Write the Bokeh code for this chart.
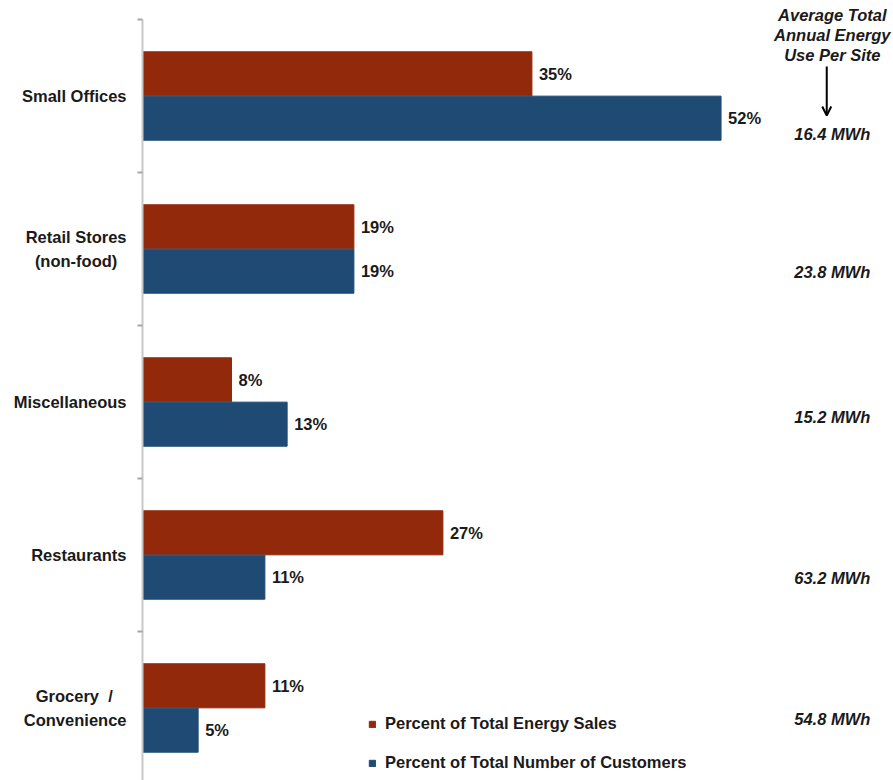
from bokeh.plotting import figure
from bokeh.models import (ColumnDataSource, Range1d, FixedTicker, Label, Arrow,
                          OpenHead, Legend, LegendItem)
from bokeh.core.properties import value
from bokeh.embed import file_html
from bokeh.resources import INLINE

NB = "\u00a0"
categories = ["Small Offices", "Retail Stores\n(non-food)" + NB * 2, "Miscellaneous",
              "Restaurants", "Grocery" + NB + " /" + NB * 3 + "\nConvenience"]
energy_sales = [35, 19, 8, 27, 11]
customers = [52, 19, 13, 11, 5]
mwh = ["16.4 MWh", "23.8 MWh", "15.2 MWh", "63.2 MWh", "54.8 MWh"]
header_lines = ["Average Total", "Annual Energy", "Use Per Site"]
series_names = ["Percent of Total Energy Sales", "Percent of Total Number of Customers"]

RED = "#92290B"
BLUE = "#1F4A73"
FONT = "Liberation Sans"
FS = "16.5px"

n = len(categories)
ypos = [n - 1 - i for i in range(n)]  # top to bottom
off = 0.145
bar_h = 0.288
band_px = 153.0
y_lo = -0.474
y_hi = (n - 0.5) + 19 / band_px

src_r = ColumnDataSource(dict(y=[v + off for v in ypos], x=energy_sales,
                              lab=[f"{v}%" for v in energy_sales]))
src_b = ColumnDataSource(dict(y=[v - off for v in ypos], x=customers,
                              lab=[f"{v}%" for v in customers]))

p = figure(width=893, height=780, output_backend="svg", toolbar_location=None,
           x_range=Range1d(0, 67.5), y_range=Range1d(y_lo, y_hi),
           min_border_left=142, min_border_right=0, min_border_top=0,
           min_border_bottom=0, outline_line_color=None)
p.xaxis.visible = False
p.xgrid.visible = False
p.ygrid.visible = False

r1 = p.hbar(y="y", right="x", left=0, height=bar_h, source=src_r,
            fill_color=RED, line_color=RED)
r2 = p.hbar(y="y", right="x", left=0, height=bar_h, source=src_b,
            fill_color=BLUE, line_color=BLUE)

for s in (src_r, src_b):
    p.text(x="x", y="y", text="lab", source=s, x_offset=7,
           text_align="left", text_baseline="middle",
           text_font=value(FONT), text_font_style="bold",
           text_font_size=FS, text_color="#1a1a1a")

# MWh column
mwh_x = 62.0
mwh_dy = [-0.25, -0.15, -0.10, -0.15, -0.07]
src_m = ColumnDataSource(dict(x=[mwh_x] * n, y=[v + d for v, d in zip(ypos, mwh_dy)], t=mwh))
p.text(x="x", y="y", text="t", source=src_m, text_align="center",
       text_baseline="middle", text_font=value(FONT),
       text_font_style="bold italic", text_font_size=FS, text_color="#1a1a1a")

hy = [(n - 0.5) + (19 - py) / band_px for py in (15, 35, 55)]
for t, yy in zip(header_lines, hy):
    p.add_layout(Label(x=mwh_x, y=yy, text=t, text_align="center",
                       text_baseline="middle", text_font=FONT,
                       text_font_style="bold italic", text_font_size=FS,
                       text_color="#1a1a1a"))
p.add_layout(Arrow(x_start=61.5, y_start=(n - 0.5) - 47 / band_px,
                   x_end=61.5, y_end=(n - 0.5) - 96 / band_px,
                   line_color="black", line_width=2,
                   end=OpenHead(size=9, line_color="black", line_width=2)))

ax = p.yaxis[0]
ax.bounds = (y_lo, n - 0.5)
ax.ticker = FixedTicker(ticks=ypos, minor_ticks=[v + 0.5 for v in range(n)])
ax.major_label_overrides = {v: c for v, c in zip(ypos, categories)}
ax.major_tick_line_color = None
ax.minor_tick_out = 5
ax.minor_tick_in = 0
ax.minor_tick_line_color = "#a6a6a6"
ax.minor_tick_line_width = 2
ax.axis_line_color = "#c8c8c8"
ax.axis_line_width = 2
ax.major_label_standoff = 10
ax.major_label_text_font = FONT
ax.major_label_text_font_style = "bold"
ax.major_label_text_font_size = FS
ax.major_label_text_color = "#1a1a1a"
ax.major_label_text_line_height = 1.3

legend = Legend(items=[LegendItem(label=series_names[0], renderers=[r1]),
                       LegendItem(label=series_names[1], renderers=[r2])],
                location=(226, 8), orientation="vertical",
                glyph_width=8, glyph_height=8, label_height=17, spacing=20,
                label_standoff=9, padding=0, margin=0,
                border_line_color=None, background_fill_alpha=0,
                label_text_font=FONT, label_text_font_style="bold",
                label_text_font_size=FS, label_text_color="#1a1a1a")
p.add_layout(legend)

open("out.html", "w").write(file_html(p, INLINE))
